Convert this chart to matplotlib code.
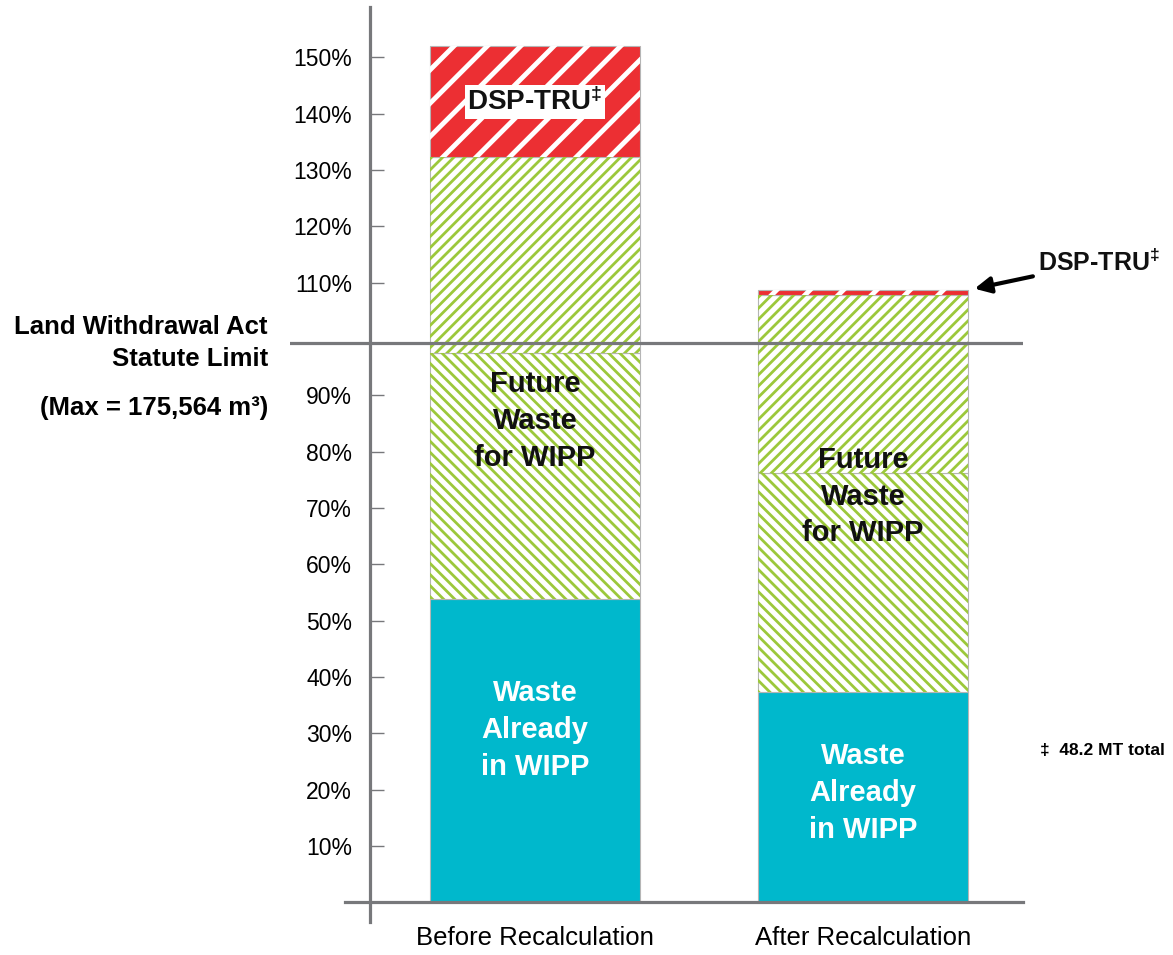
import matplotlib.pyplot as plt
import numpy as np

plt.rcParams['font.family'] = ['Liberation Sans Narrow', 'Liberation Sans', 'DejaVu Sans']
plt.rcParams['mathtext.fontset'] = 'custom'
plt.rcParams['mathtext.rm'] = 'Liberation Sans:bold'
plt.rcParams['mathtext.it'] = 'Liberation Sans:bold'
plt.rcParams['mathtext.bf'] = 'Liberation Sans:bold'

# values (% of statute limit)
categories = ['Before Recalculation', 'After Recalculation']
already_in_wipp = [53.8, 37.3]
future_lower = [43.7, 38.9]
future_upper = [34.7, 31.5]
dsp_tru = [19.8, 0.9]
limit = 99.3
ytick_vals = [10, 20, 30, 40, 50, 60, 70, 80, 90, 110, 120, 130, 140, 150]

grey = '#77787b'
cyan = '#00b8cc'
green = '#9cc83b'
red = '#ec2f33'

fig = plt.figure(figsize=(11.73, 9.55), dpi=100)
ax = fig.add_axes([0.2472, 0.03455, 0.6249, 0.9581])

x = np.arange(len(categories))
w = 0.64

b1 = np.array(already_in_wipp)
b2 = b1 + np.array(future_lower)
b3 = b2 + np.array(future_upper)
tops = b3 + np.array(dsp_tru)


def layer(bottom, height, face, hatch=None, hcolor=None, hlw=2.0):
    ax.bar(x, height, w, bottom=bottom, color=face, edgecolor='#b5b5b5', linewidth=0.8, zorder=2)
    if hatch:
        plt.rcParams['hatch.linewidth'] = hlw
        ax.bar(x, height, w, bottom=bottom, color='none', edgecolor=hcolor,
               linewidth=0, hatch=hatch, zorder=3)


layer(0, already_in_wipp, cyan)
layer(b1, future_lower, 'white', '\\\\\\', green, 2.0)
layer(b2, future_upper, 'white', '///', green, 2.0)
layer(b3, dsp_tru, red, '/', 'white', 3.5)

ax.axhline(limit, color=grey, lw=2.3, zorder=5)

ax.set_xlim(-0.747, 1.488)
ax.set_ylim(-3.5, 158.9)
for s in ['top', 'right']:
    ax.spines[s].set_visible(False)
ax.spines['left'].set_position(('data', -0.503))
ax.spines['bottom'].set_position(('data', 0))
ax.spines['bottom'].set_bounds(-0.579, 1.488)
for s in ['left', 'bottom']:
    ax.spines[s].set_color(grey)
    ax.spines[s].set_linewidth(2.3)
    ax.spines[s].set_zorder(6)

ax.set_yticks(ytick_vals, [f'{v}%' for v in ytick_vals])
ax.tick_params(axis='y', direction='in', length=10, width=1, color=grey, pad=13, labelsize=16.5)
ax.set_xticks(x, categories)
ax.tick_params(axis='x', length=0, pad=17, labelsize=18.5)

# labels inside the bars
for xi, yv in zip(x, [30.6, 19.4]):
    ax.text(xi, yv, 'Waste\nAlready\nin WIPP', ha='center', va='center', color='white',
            fontsize=21, fontweight='bold', linespacing=1.4, zorder=7)
for xi, yv in zip(x, [85.4, 72.0]):
    ax.text(xi, yv, 'Future\nWaste\nfor WIPP', ha='center', va='center', color='#111111',
            fontsize=21, fontweight='bold', linespacing=1.4, zorder=7)
ax.text(x[0], b3[0] + dsp_tru[0] / 2, 'DSP-TRU$^{‡}$', ha='center', va='center', fontsize=20,
        fontweight='bold', color='#111111', zorder=7,
        bbox=dict(facecolor='white', edgecolor='none', pad=2))

ax.annotate('DSP-TRU$^{‡}$', xy=(x[1] + w / 2 + 0.012, tops[1] + 0.2), xytext=(1.535, 113.6),
            ha='left', va='center', fontsize=18, fontweight='bold', color='#111111',
            arrowprops=dict(arrowstyle='-|>', lw=3, color='black', mutation_scale=24),
            annotation_clip=False)
ax.text(1.54, 27.0, '‡  48.2 MT total', ha='left', va='center', fontsize=12.5, fontweight='bold')

# statute limit label
ax.text(-0.03, limit, 'Land Withdrawal Act\nStatute Limit', transform=ax.get_yaxis_transform(),
        ha='right', va='center', fontsize=18.5, fontweight='bold', linespacing=1.45)
ax.text(-0.03, limit - 11.5, '(Max = 175,564 m³)', transform=ax.get_yaxis_transform(),
        ha='right', va='center', fontsize=18.5, fontweight='bold')

fig.savefig('out.png', dpi=100)
